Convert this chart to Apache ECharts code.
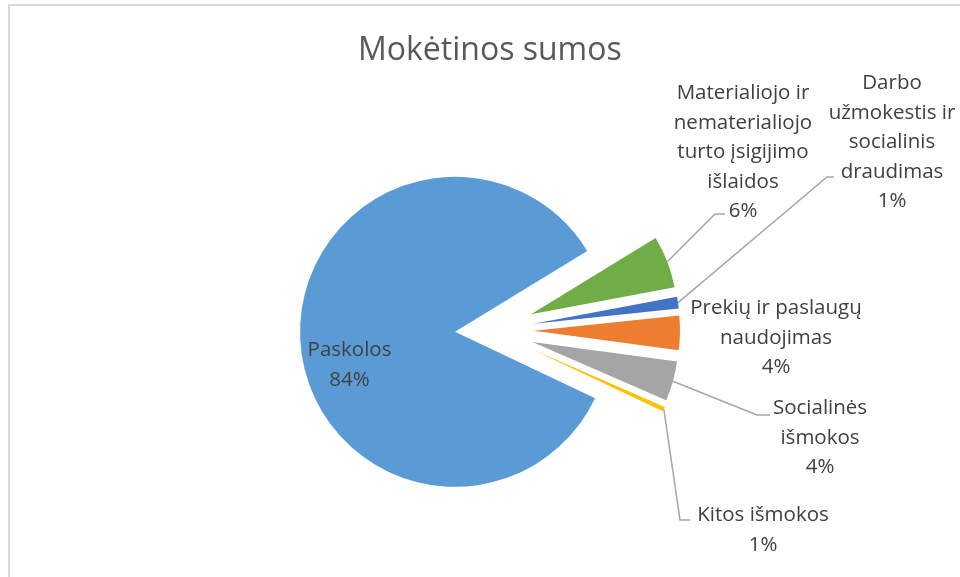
<!DOCTYPE html>
<html><head><meta charset="utf-8">
<script src="https://cdn.jsdelivr.net/npm/echarts@6/dist/echarts.min.js"></script>
<style>html,body{margin:0;padding:0;background:#fff}#c{width:960px;height:577px}</style>
</head><body><div id="c"></div>
<script>
// ---- data ----
const categories = [
  'Materialiojo ir\nnematerialiojo\nturto įsigijimo\nišlaidos',
  'Darbo\nužmokestis ir\nsocialinis\ndraudimas',
  'Prekių ir paslaugų\nnaudojimas',
  'Socialinės\nišmokos',
  'Kitos išmokos',
  'Paskolos'
];
const values = [5.8, 1.3, 3.8, 4.4, 0.5, 84.2];
const colors = ['#70AD47', '#4472C4', '#ED7D31', '#A5A5A5', '#FFC000', '#5B9BD5'];

// ---- layout / style ----
const baseCenter = [490, 330];
const startAngle = 31.5;
const explode = [44, 44, 44, 44, 45, 35];
const radius = [146, 146, 146, 146, 146, 155];
const labelPos = [[743, 152.5], [892, 142.5], [776, 338], [820, 438], [763, 530], [349.5, 365]];
const labelLineBends = [
  [[715, 214], [725, 214]],
  [[827, 177], [834, 177]],
  null,
  [[757, 415], [770, 415]],
  [[680, 520], [690, 520]],
  null
];

const total = values.reduce((a, b) => a + b, 0);
let acc = 0;
const centers = values.map((v, i) => {
  const a0 = startAngle - acc / total * 360;
  acc += v;
  const a1 = startAngle - acc / total * 360;
  const mid = (a0 + a1) / 2 * Math.PI / 180;
  return [baseCenter[0] + explode[i] * Math.cos(mid), baseCenter[1] - explode[i] * Math.sin(mid)];
});

const labelFont = { color: '#404040', fontFamily: 'Open Sans', fontSize: 20.5, lineHeight: 29.5 };

const series = values.map((_, i) => ({
  type: 'pie',
  center: centers[i],
  radius: [0, radius[i]],
  startAngle: startAngle,
  clockwise: true,
  percentPrecision: 0,
  avoidLabelOverlap: false,
  silent: true,
  animation: false,
  label: { show: false },
  labelLine: { show: false },
  emphasis: { disabled: true },
  itemStyle: { borderWidth: 0 },
  data: categories.map((name, j) => ({
    name: name,
    value: values[j],
    itemStyle: { color: j === i ? colors[j] : 'rgba(0,0,0,0)' },
    label: j === i ? Object.assign({
      show: true,
      position: i === 5 ? 'inside' : 'outside',
      formatter: '{b}\n{d}%',
      align: 'center'
    }, labelFont) : { show: false },
    labelLine: (j === i && labelLineBends[i]) ? {
      show: true, lineStyle: { color: '#A6A6A6', width: 1.5 }
    } : { show: false }
  })),
  labelLayout: function (p) {
    if (p.dataIndex !== i) return {};
    const pos = labelPos[i];
    const o = { x: pos[0], y: pos[1], align: 'center', verticalAlign: 'middle' };
    if (labelLineBends[i] && p.labelLinePoints && p.labelLinePoints.length) {
      o.labelLinePoints = [p.labelLinePoints[0]].concat(labelLineBends[i]);
    }
    return o;
  }
}));

const chart = echarts.init(document.getElementById('c'), null, { renderer: 'canvas' });
chart.setOption({
  backgroundColor: '#ffffff',
  animation: false,
  title: {
    text: 'Mokėtinos sumos',
    left: 358,
    top: 35,
    padding: 0,
    textStyle: { fontFamily: 'Open Sans', fontSize: 32, fontWeight: 'normal', color: '#595959' }
  },
  graphic: [{
    type: 'rect',
    shape: { x: 9, y: 5, width: 1000, height: 1000 },
    style: { fill: 'none', stroke: '#D9D9D9', lineWidth: 2 },
    silent: true
  }],
  series: series
});
</script></body></html>
